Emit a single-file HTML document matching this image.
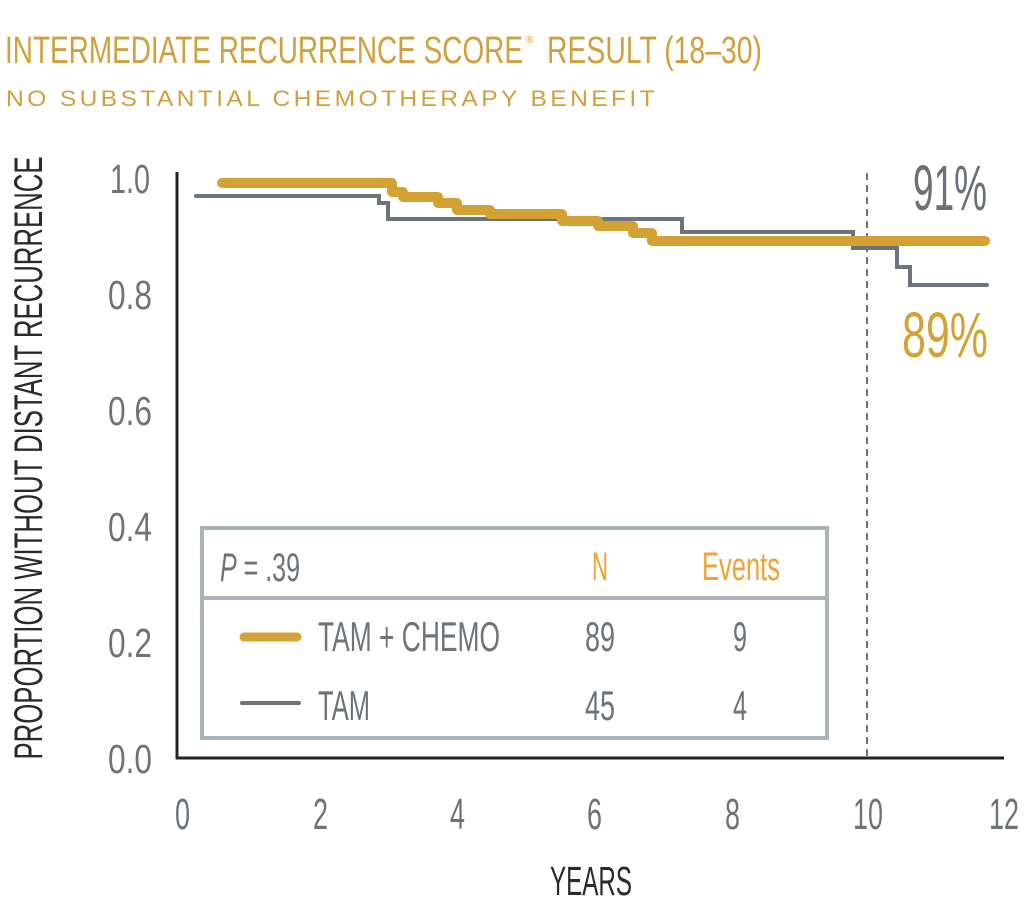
<!DOCTYPE html>
<html>
<head>
<meta charset="utf-8">
<style>
  html,body{margin:0;padding:0;background:#fff;}
  svg{display:block;}
  .c{font-family:"Liberation Sans Narrow","Liberation Sans",sans-serif;}
  .w{font-family:"Liberation Sans",sans-serif;}
</style>
</head>
<body>
<svg width="1024" height="914" viewBox="0 0 1024 914" xmlns="http://www.w3.org/2000/svg">
  <rect x="0" y="0" width="1024" height="914" fill="#fff"/>

  <!-- Title -->
  <text class="c" x="5" y="63" font-size="38" fill="#cfa03c" textLength="518" lengthAdjust="spacingAndGlyphs">INTERMEDIATE RECURRENCE SCORE</text>
  <text class="w" x="526" y="43" font-size="10" fill="#cfa03c">®</text>
  <text class="c" x="547" y="63" font-size="38" fill="#cfa03c" textLength="215" lengthAdjust="spacingAndGlyphs">RESULT (18–30)</text>
  <text class="w" x="6" y="106" font-size="22" fill="#cfa03c" textLength="652" lengthAdjust="spacingAndGlyphs" letter-spacing="3">NO SUBSTANTIAL CHEMOTHERAPY BENEFIT</text>

  <!-- Y axis label -->
  <text class="c" transform="translate(42,458) rotate(-90)" text-anchor="middle" font-size="40" fill="#2a2a2a" textLength="603" lengthAdjust="spacingAndGlyphs">PROPORTION WITHOUT DISTANT RECURRENCE</text>

  <!-- Y tick labels -->
  <g class="c" font-size="41" fill="#6e737a">
    <text x="110" y="193" textLength="40" lengthAdjust="spacingAndGlyphs">1.0</text>
    <text x="108" y="309" textLength="44" lengthAdjust="spacingAndGlyphs">0.8</text>
    <text x="108" y="425" textLength="44" lengthAdjust="spacingAndGlyphs">0.6</text>
    <text x="108" y="541" textLength="44" lengthAdjust="spacingAndGlyphs">0.4</text>
    <text x="108" y="657" textLength="44" lengthAdjust="spacingAndGlyphs">0.2</text>
    <text x="108" y="773" textLength="44" lengthAdjust="spacingAndGlyphs">0.0</text>
  </g>

  <!-- X tick labels -->
  <g class="c" font-size="44" fill="#6e737a">
    <text x="175" y="829" textLength="15" lengthAdjust="spacingAndGlyphs">0</text>
    <text x="313" y="829" textLength="15" lengthAdjust="spacingAndGlyphs">2</text>
    <text x="450" y="829" textLength="15" lengthAdjust="spacingAndGlyphs">4</text>
    <text x="587" y="829" textLength="15" lengthAdjust="spacingAndGlyphs">6</text>
    <text x="725" y="829" textLength="15" lengthAdjust="spacingAndGlyphs">8</text>
    <text x="853" y="829" textLength="30" lengthAdjust="spacingAndGlyphs">10</text>
    <text x="989" y="829" textLength="30" lengthAdjust="spacingAndGlyphs">12</text>
  </g>
  <text class="c" x="550" y="895" font-size="41" fill="#2a2a2a" textLength="82" lengthAdjust="spacingAndGlyphs">YEARS</text>

  <!-- Dashed 10-year line -->
  <line x1="867" y1="173" x2="867" y2="757" stroke="#6b737c" stroke-width="2" stroke-dasharray="7 5"/>

  <!-- Axes -->
  <line x1="177" y1="172" x2="177" y2="759" stroke="#231f20" stroke-width="3"/>
  <line x1="176" y1="758" x2="1004" y2="758" stroke="#231f20" stroke-width="3"/>

  <!-- TAM curve (gray) -->
  <polyline fill="none" stroke="#6b737c" stroke-width="4" stroke-linecap="round" stroke-linejoin="miter"
    points="196,196 379,196 379,203 388,203 388,219 682,219 682,232 853,232 853,248 897,248 897,267 910,267 910,285 987,285"/>

  <!-- TAM + CHEMO curve (gold) -->
  <polyline fill="none" stroke="#d4a233" stroke-width="10" stroke-linecap="round" stroke-linejoin="round"
    points="222,183 392,183 392,192 403,192 403,197 438,197 438,203 457,203 457,210 490,210 490,214 562,214 562,221 598,221 598,226 633,226 633,233 652,233 652,241 985,241"/>

  <!-- Percent labels -->
  <text class="c" x="913" y="210" font-size="64" fill="#6b7077" textLength="74" lengthAdjust="spacingAndGlyphs">91%</text>
  <text class="c" x="902" y="357" font-size="64" fill="#d4a233" textLength="86" lengthAdjust="spacingAndGlyphs">89%</text>

  <!-- Legend box -->
  <rect x="202" y="528" width="625" height="210" fill="#fff" stroke="#a9b3bb" stroke-width="4"/>
  <line x1="202" y1="598" x2="827" y2="598" stroke="#a9b3bb" stroke-width="4"/>

  <text class="c" x="220" y="581" font-size="40" fill="#6e737a" textLength="80" lengthAdjust="spacingAndGlyphs"><tspan font-style="italic">P</tspan> = .39</text>
  <text class="c" x="592" y="580" font-size="40" fill="#f0a235" textLength="16" lengthAdjust="spacingAndGlyphs">N</text>
  <text class="c" x="702" y="580" font-size="40" fill="#f0a235" textLength="78" lengthAdjust="spacingAndGlyphs">Events</text>

  <line x1="244" y1="637" x2="297" y2="637" stroke="#d4a233" stroke-width="9" stroke-linecap="round"/>
  <line x1="242" y1="703" x2="299" y2="703" stroke="#6b737c" stroke-width="4" stroke-linecap="round"/>

  <g class="c" font-size="42" fill="#6e737a">
    <text x="318" y="651" textLength="182" lengthAdjust="spacingAndGlyphs">TAM + CHEMO</text>
    <text x="318" y="720" textLength="52" lengthAdjust="spacingAndGlyphs">TAM</text>
    <text x="585" y="651" textLength="30" lengthAdjust="spacingAndGlyphs">89</text>
    <text x="733" y="651" textLength="14" lengthAdjust="spacingAndGlyphs">9</text>
    <text x="585" y="720" textLength="30" lengthAdjust="spacingAndGlyphs">45</text>
    <text x="733" y="720" textLength="14" lengthAdjust="spacingAndGlyphs">4</text>
  </g>
</svg>
</body>
</html>
